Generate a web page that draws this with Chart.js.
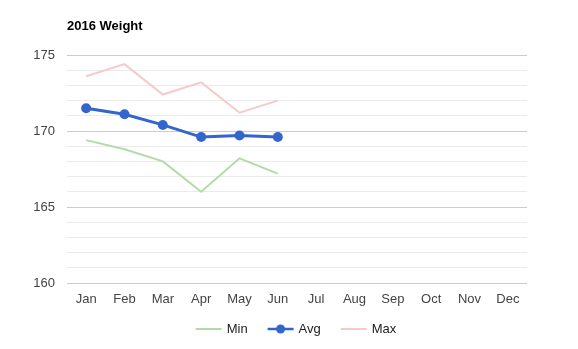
<!DOCTYPE html>
<html>
<head>
<meta charset="utf-8">
<script src="https://cdn.jsdelivr.net/npm/chart.js@4/dist/chart.umd.min.js"></script>
<style>
  html, body { margin: 0; padding: 0; background: #fff; }
  #wrap { width: 578px; height: 349px; }
</style>
</head>
<body>
<div id="wrap"><canvas id="chart" width="578" height="349"></canvas></div>
<script>
var months = ['Jan', 'Feb', 'Mar', 'Apr', 'May', 'Jun', 'Jul', 'Aug', 'Sep', 'Oct', 'Nov', 'Dec'];
var minWeight = [169.4, 168.8, 168.0, 166.0, 168.2, 167.2];
var avgWeight = [171.5, 171.1, 170.4, 169.6, 169.7, 169.6];
var maxWeight = [173.6, 174.4, 172.4, 173.2, 171.2, 172.0];
var yTicks = [160, 165, 170, 175];

var FONT = '"Liberation Sans", Arial, sans-serif';

// title and bottom legend, drawn on the canvas next to the chart area
var decorations = {
    id: 'decorations',
    afterDraw: function(chart) {
        var ctx = chart.ctx;
        var area = chart.chartArea;
        ctx.save();
        ctx.fillStyle = '#000';
        ctx.font = 'bold 13px ' + FONT;
        ctx.textBaseline = 'middle';
        ctx.textAlign = 'left';
        ctx.fillText('2016 Weight', area.left, 26);

        ctx.font = '13px ' + FONT;
        var items = chart.data.datasets.map(function(ds) {
            return { label: ds.label, color: ds.borderColor, dot: ds.pointRadius > 0, w: ctx.measureText(ds.label).width };
        });
        var swatch = 26, gap = 5, spacing = 20;
        var total = 0;
        items.forEach(function(it, i) {
            total += swatch + gap + it.w + (i < items.length - 1 ? spacing : 0);
        });
        var x = (area.left + area.right) / 2 - total / 2 - 1;
        var y = 329;
        items.forEach(function(it) {
            ctx.strokeStyle = it.color;
            ctx.lineWidth = it.dot ? 2.5 : 2;
            ctx.beginPath();
            ctx.moveTo(x, y);
            ctx.lineTo(x + swatch, y);
            ctx.stroke();
            if (it.dot) {
                ctx.fillStyle = it.color;
                ctx.beginPath();
                ctx.arc(x + swatch / 2, y, 4.5, 0, Math.PI * 2);
                ctx.fill();
            }
            ctx.fillStyle = '#222';
            ctx.fillText(it.label, x + swatch + gap, y);
            x += swatch + gap + it.w + spacing;
        });
        ctx.restore();
    }
};

new Chart(document.getElementById('chart'), {
    type: 'line',
    data: {
        labels: months,
        datasets: [{
            label: 'Min',
            data: minWeight,
            borderColor: '#b3dba8',
            borderWidth: 2,
            pointRadius: 0,
            tension: 0
        }, {
            label: 'Avg',
            data: avgWeight,
            borderColor: '#3366cc',
            backgroundColor: '#3366cc',
            borderWidth: 3,
            pointRadius: 5,
            pointBorderWidth: 0,
            tension: 0
        }, {
            label: 'Max',
            data: maxWeight,
            borderColor: '#f4cbcb',
            borderWidth: 2,
            pointRadius: 0,
            tension: 0
        }]
    },
    options: {
        responsive: false,
        animation: false,
        layout: { padding: { top: 55, right: 51, bottom: 0, left: 0 } },
        plugins: {
            legend: { display: false },
            title: { display: false },
            tooltip: { enabled: false }
        },
        scales: {
            x: {
                offset: true,
                grid: { display: false, drawTicks: false },
                border: { display: false },
                ticks: { color: '#444', font: { family: FONT, size: 13 }, padding: 9, maxRotation: 0, autoSkip: false },
                afterFit: function(scale) { scale.height = 66; }
            },
            y: {
                min: yTicks[0],
                max: yTicks[yTicks.length - 1],
                ticks: {
                    stepSize: 1,
                    autoSkip: false,
                    maxTicksLimit: 100,
                    color: '#444',
                    font: { family: FONT, size: 13 },
                    padding: 12,
                    callback: function(v) { return yTicks.indexOf(v) >= 0 ? v : ''; }
                },
                grid: {
                    drawTicks: false,
                    color: function(c) { return yTicks.indexOf(c.tick.value) >= 0 ? '#cccccc' : '#ebebeb'; },
                    lineWidth: 1
                },
                border: { display: false },
                afterFit: function(scale) { scale.width = 67; }
            }
        }
    },
    plugins: [decorations]
});
</script>
</body>
</html>
